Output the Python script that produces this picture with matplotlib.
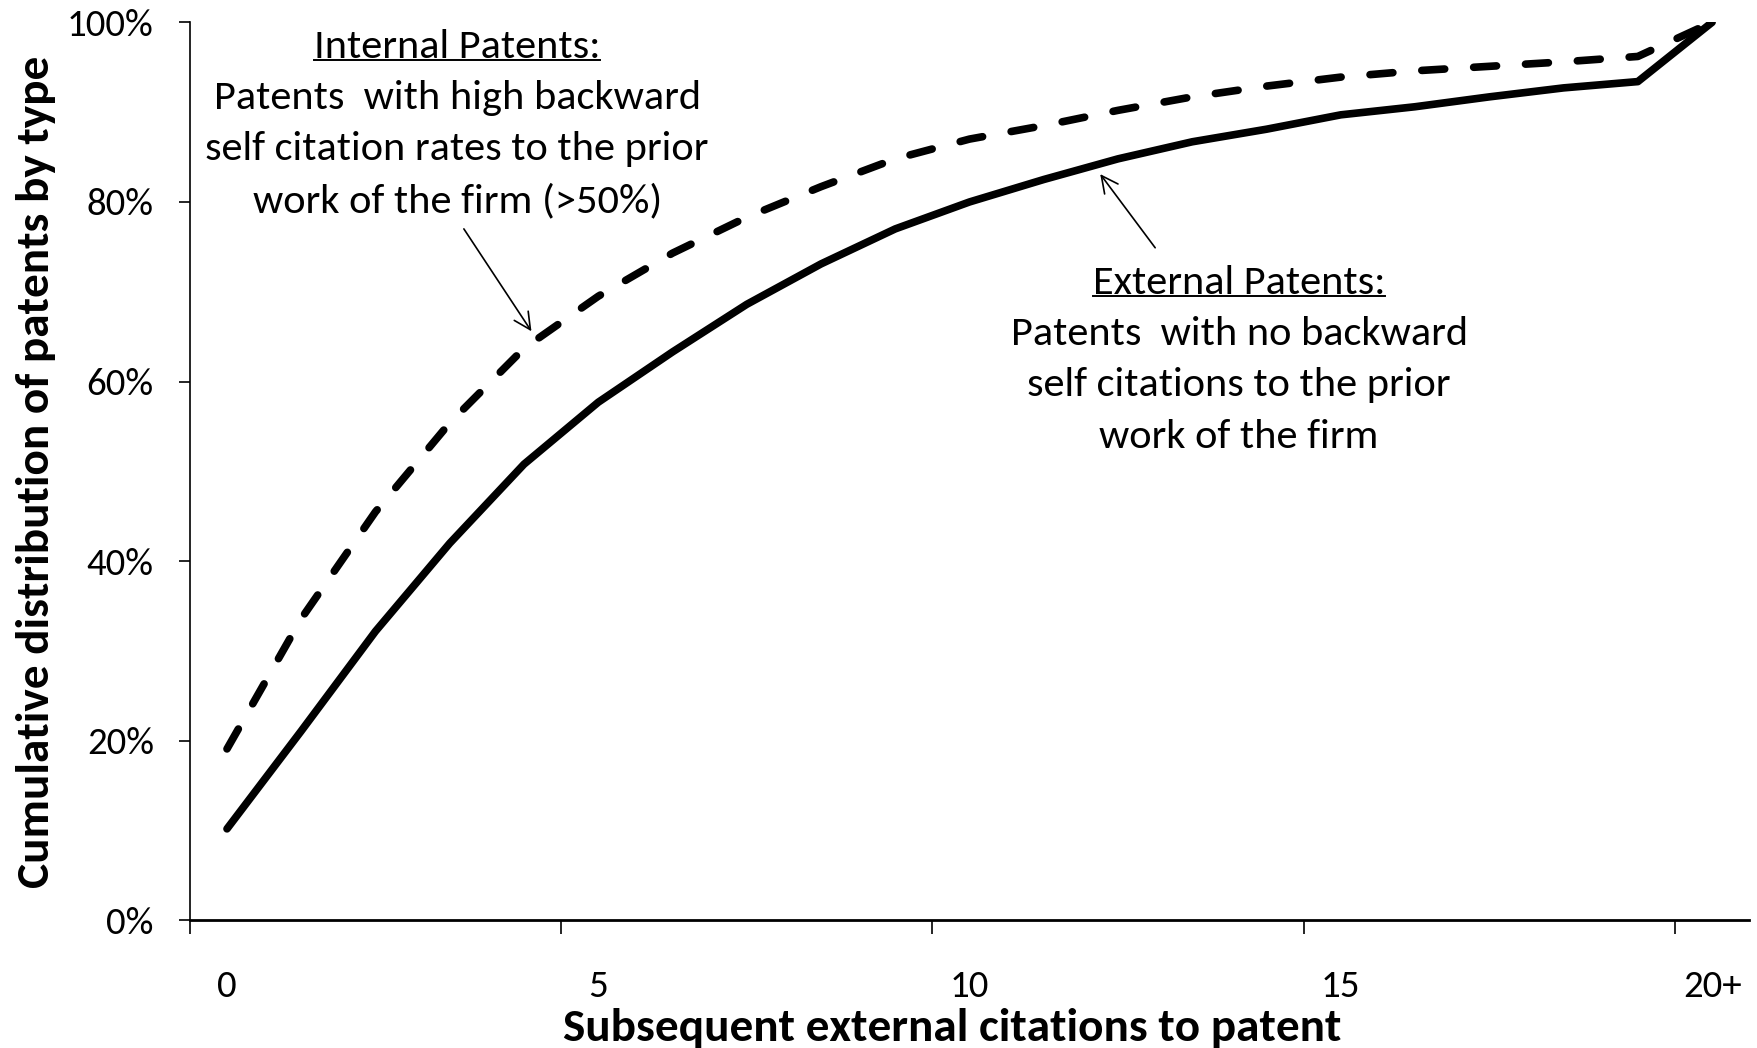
import numpy as np
import matplotlib
matplotlib.use('Agg')
import matplotlib.pyplot as plt
from matplotlib import font_manager
from matplotlib.lines import Line2D

# Schriftart: Calibri-ähnlich, falls vorhanden
installed = {f.name for f in font_manager.fontManager.ttflist}
families = [f for f in ['Carlito', 'Lato', 'DejaVu Sans'] if f in installed]
plt.rcParams['font.family'] = families

# Daten
categories = ['0', '1', '2', '3', '4', '5', '6', '7', '8', '9', '10',
              '11', '12', '13', '14', '15', '16', '17', '18', '19', '20+']
external = [10.2, 21.1, 32.2, 42.0, 50.8, 57.7, 63.3, 68.6, 73.1, 77.0, 80.0,
            82.5, 84.8, 86.7, 88.1, 89.7, 90.6, 91.7, 92.7, 93.4, 100.0]
internal = [19.1, 33.6, 45.5, 55.4, 63.7, 69.5, 74.3, 78.3, 81.7, 84.8, 87.0,
            88.5, 90.2, 91.7, 92.9, 93.9, 94.6, 95.1, 95.6, 96.2, 100.0]
x_labels = ['0', '5', '10', '15', '20+']
y_ticks = [0, 20, 40, 60, 80, 100]

internal_text = ['Internal Patents:',
                 'Patents  with high backward',
                 'self citation rates to the prior',
                 'work of the firm (>50%)']
external_text = ['External Patents:',
                 'Patents  with no backward',
                 'self citations to the prior',
                 'work of the firm']

x = np.arange(len(categories))

fig = plt.figure(figsize=(17.58, 10.48), dpi=100)
ax = fig.add_axes([0.108, 0.1217, 0.887, 0.857])

# Kurven
ax.plot(x, external, color='black', lw=5.5, solid_capstyle='round',
        solid_joinstyle='round')
ax.plot(x, internal, color='black', lw=5.5, dashes=(3.0, 3.8),
        dash_capstyle='round', dash_joinstyle='round')

ax.set_xlim(-0.5, len(categories) - 0.5)
ax.set_ylim(0, 100)

# Achsen im Excel-Stil
for s in ['top', 'right']:
    ax.spines[s].set_visible(False)
ax.spines['left'].set_linewidth(1.2)
ax.spines['bottom'].set_linewidth(2.0)

ax.set_yticks(y_ticks)
ax.set_yticklabels([f'{v}%' for v in y_ticks])
ax.tick_params(axis='y', direction='out', length=8, width=1.2, pad=18,
               labelsize=28)

ax.set_xticks(np.arange(-0.5, len(categories), 5))
ax.set_xticklabels([])
ax.tick_params(axis='x', which='major', direction='out', length=10, width=1.2)
ax.set_xticks(np.arange(0, len(categories), 5), minor=True)
ax.set_xticklabels(x_labels, minor=True)
ax.tick_params(axis='x', which='minor', length=0, pad=36, labelsize=28)

ax.set_xlabel('Subsequent external citations to patent', fontsize=34,
              fontweight='bold')
ax.xaxis.set_label_coords(0.489, -0.097)
ax.set_ylabel('Cumulative distribution of patents by type', fontsize=34,
              fontweight='bold')
ax.yaxis.set_label_coords(-0.086, 0.5)

# Beschriftungen
texts = []
for lines, cx, ys in [(internal_text, 3.1, [97.3, 91.6, 85.9, 80.1]),
                      (external_text, 13.63, [71.0, 65.3, 59.6, 53.8])]:
    for i, (line, yy) in enumerate(zip(lines, ys)):
        t = ax.text(cx, yy, line, ha='center', va='center', fontsize=30.5)
        if i == 0:
            texts.append(t)

ax.annotate('', xy=(4.10, 65.6), xytext=(3.19, 77.0),
            arrowprops=dict(arrowstyle='->', lw=1.2, color='black',
                            mutation_scale=30, shrinkA=0, shrinkB=0))
ax.annotate('', xy=(11.76, 83.1), xytext=(12.50, 74.9),
            arrowprops=dict(arrowstyle='->', lw=1.2, color='black',
                            mutation_scale=30, shrinkA=0, shrinkB=0))

# Unterstreichen der Überschriften
fig.canvas.draw()
renderer = fig.canvas.get_renderer()
inv = fig.transFigure.inverted()
for t in texts:
    bb = t.get_window_extent(renderer)
    (x0, y0), (x1, _) = inv.transform([[bb.x0, bb.y0 + 5], [bb.x1, bb.y1]])
    fig.add_artist(Line2D([x0, x1], [y0, y0], transform=fig.transFigure,
                          color='black', lw=1.4))

fig.savefig('out.png', dpi=100)
